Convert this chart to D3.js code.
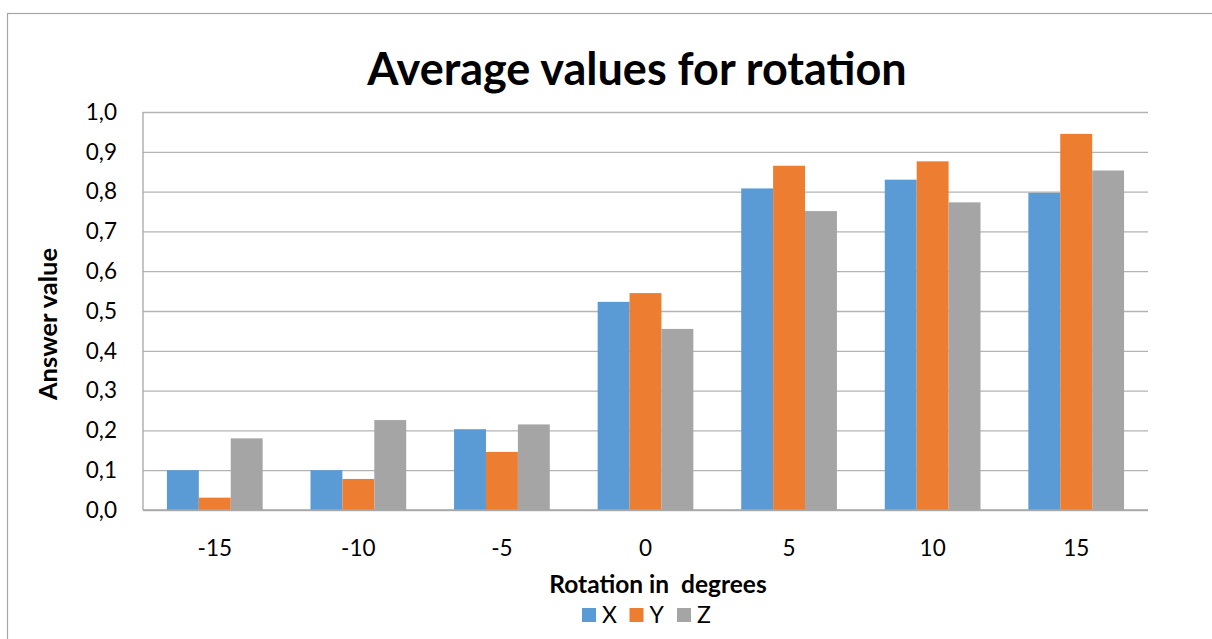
<!DOCTYPE html>
<html>
<head>
<meta charset="utf-8">
<script src="https://cdn.jsdelivr.net/npm/d3@7"></script>
<style>
  html, body { margin: 0; padding: 0; background: #ffffff; }
  svg { display: block; font-family: Lato, "Open Sans", sans-serif; }
</style>
</head>
<body>
<svg id="chart" width="1212" height="639"></svg>
<script>
// Rotation angles (x categories)
const categories = ["-15", "-10", "-5", "0", "5", "10", "15"];
// Series names
const seriesNames = ["X", "Y", "Z"];
// Average answer value per rotation, one array per series
const valuesX = [0.100, 0.100, 0.203, 0.523, 0.808, 0.830, 0.797];
const valuesY = [0.031, 0.078, 0.146, 0.545, 0.865, 0.876, 0.945];
const valuesZ = [0.180, 0.226, 0.215, 0.455, 0.751, 0.773, 0.853];
// Y axis ticks
const yTicks = [0, 0.1, 0.2, 0.3, 0.4, 0.5, 0.6, 0.7, 0.8, 0.9, 1.0];

const colors = ["#5B9BD5", "#ED7D31", "#A5A5A5"];
const seriesValues = [valuesX, valuesY, valuesZ];

const svg = d3.select("#chart");

// Chart frame
svg.append("rect")
  .attr("x", 7.5).attr("y", 13.5)
  .attr("width", 1220).attr("height", 700)
  .attr("fill", "#ffffff")
  .attr("stroke", "#a6a6a6").attr("stroke-width", 1.2);

const plot = { left: 143, right: 1148, top: 112, bottom: 510 };

const x0 = d3.scaleBand()
  .domain(categories)
  .range([plot.left, plot.right])
  .paddingInner(1 / 3)
  .paddingOuter(1 / 6);

const x1 = d3.scaleBand()
  .domain(seriesNames)
  .range([0, x0.bandwidth()]);

const y = d3.scaleLinear()
  .domain([0, 1])
  .range([plot.bottom, plot.top]);

const fmt = v => d3.format(".1f")(v).replace(".", ",");

// Horizontal gridlines and y tick labels
const yAxis = d3.axisLeft(y)
  .tickValues(yTicks)
  .tickFormat(fmt)
  .tickSize(-(plot.right - plot.left))
  .tickPadding(26);

const gy = svg.append("g")
  .attr("transform", `translate(${plot.left},0)`)
  .call(yAxis);
gy.select(".domain").remove();
gy.selectAll(".tick line")
  .attr("stroke", "#b3b3b3").attr("stroke-width", 1.3);
gy.selectAll(".tick text")
  .attr("fill", "#000").attr("font-size", 22.5)
  .attr("font-family", "Lato, sans-serif");

// Left axis line
svg.append("line")
  .attr("x1", plot.left).attr("x2", plot.left)
  .attr("y1", plot.top).attr("y2", plot.bottom)
  .attr("stroke", "#a6a6a6").attr("stroke-width", 1.3);

// Bars
const groups = svg.append("g")
  .selectAll("g")
  .data(categories)
  .join("g")
  .attr("transform", d => `translate(${x0(d)},0)`);

groups.selectAll("rect")
  .data((c, i) => seriesNames.map((s, k) => ({ s, v: seriesValues[k][i], k })))
  .join("rect")
  .attr("x", d => x1(d.s))
  .attr("width", x1.bandwidth())
  .attr("y", d => y(d.v))
  .attr("height", d => y(0) - y(d.v))
  .attr("fill", d => colors[d.k]);

// Baseline
svg.append("line")
  .attr("x1", plot.left).attr("x2", plot.right)
  .attr("y1", y(0)).attr("y2", y(0))
  .attr("stroke", "#a6a6a6").attr("stroke-width", 1.3);

// X axis labels
const xAxis = d3.axisBottom(x0).tickSize(0).tickPadding(30);
const gx = svg.append("g")
  .attr("transform", `translate(0,${plot.bottom})`)
  .call(xAxis);
gx.select(".domain").remove();
gx.selectAll(".tick text")
  .attr("fill", "#000").attr("font-size", 22.5)
  .attr("font-family", "Lato, sans-serif");

// Title
svg.append("text")
  .attr("x", 637).attr("y", 85)
  .attr("text-anchor", "middle")
  .attr("font-size", 45).attr("font-weight", "bold")
  .text("Average values for rotation");

// Axis titles
svg.append("text")
  .attr("x", 658).attr("y", 593)
  .attr("text-anchor", "middle")
  .attr("font-size", 24.5).attr("font-weight", "bold")
  .attr("xml:space", "preserve")
  .style("white-space", "pre")
  .text("Rotation in  degrees");

svg.append("text")
  .attr("transform", "translate(57,324) rotate(-90)")
  .attr("text-anchor", "middle")
  .attr("font-size", 25.5).attr("font-weight", "bold")
  .text("Answer value");

// Legend
const legend = svg.append("g").attr("transform", "translate(582,608)");
const item = legend.selectAll("g")
  .data(seriesNames)
  .join("g")
  .attr("transform", (d, i) => `translate(${i * 47.5},0)`);
item.append("rect")
  .attr("width", 14).attr("height", 14)
  .attr("fill", (d, i) => colors[i]);
item.append("text")
  .attr("x", 20).attr("y", 15)
  .attr("font-size", 23)
  .text(d => d);
</script>
</body>
</html>
